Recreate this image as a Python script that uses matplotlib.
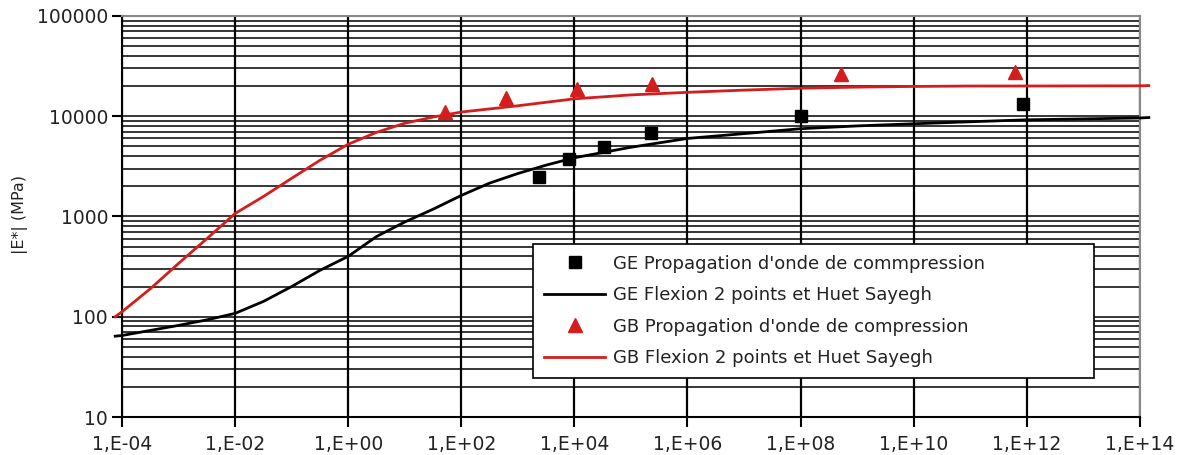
import math
import matplotlib
matplotlib.use('Agg')
import matplotlib.pyplot as plt
from matplotlib.ticker import FixedLocator, LogLocator, FuncFormatter, NullFormatter, NullLocator

# master curves (frequency Hz, |E*| MPa)
ge_freq = [10**-4.12, 1e-4, 10**-3.5, 1e-3, 10**-2.5, 1e-2, 10**-1.5, 1e-1, 10**-0.5, 1e0, 10**0.5, 1e1, 10**1.5,
           1e2, 10**2.5, 1e3, 10**3.5, 1e4, 1e5, 1e6, 1e7, 1e8, 1e9, 1e10, 1e11, 1e12, 1e13, 1e14, 10**14.16]
ge_mod = [64, 65, 73, 82, 93, 108, 142, 200, 290, 400, 630, 880, 1180,
          1620, 2150, 2680, 3250, 3850, 4900, 6000, 6700, 7500, 8000, 8400, 8800, 9200, 9400, 9600, 9700]

gb_freq = [10**-4.12, 1e-4, 10**-3.5, 1e-3, 10**-2.5, 1e-2, 10**-1.5, 1e-1, 10**-0.5, 1e0, 10**0.5, 1e1, 10**1.5,
           1e2, 1e3, 1e4, 1e5, 1e6, 1e7, 1e8, 1e9, 1e10, 1e11, 1e12, 1e14, 10**14.16]
gb_mod = [100, 112, 190, 340, 600, 1070, 1580, 2400, 3630, 5250, 6900, 8500, 9800,
          11000, 12700, 14900, 16300, 17300, 18200, 19000, 19500, 19800, 20000, 20000, 20100, 20200]

# compression wave propagation measurements
ge_pts_freq = [10**3.38, 10**3.9, 10**4.52, 10**5.36, 1e8, 10**11.94]
ge_pts_mod = [2500, 3700, 4900, 6800, 10000, 13200]

gb_pts_freq = [10**1.72, 10**2.8, 10**4.04, 10**5.38, 10**8.72, 10**11.8]
gb_pts_mod = [11000, 15100, 18600, 20900, 26300, 27500]

x_ticks = [1e-4, 1e-2, 1e0, 1e2, 1e4, 1e6, 1e8, 1e10, 1e12, 1e14]
y_ticks = [10, 100, 1000, 10000, 100000]

red = '#d41e1e'

fig = plt.figure(figsize=(11.96, 4.55), dpi=100)
ax = fig.add_axes([0.102, 0.0835, 0.851, 0.8815])
ax.set_xscale('log')
ax.set_yscale('log')
ax.set_xlim(1e-4, 1e14)
ax.set_ylim(10, 100000)

ax.xaxis.set_major_locator(FixedLocator(x_ticks))
ax.xaxis.set_minor_locator(NullLocator())
ax.yaxis.set_major_locator(FixedLocator(y_ticks))
ax.yaxis.set_minor_locator(LogLocator(base=10, subs=range(2, 10)))
ax.yaxis.set_minor_formatter(NullFormatter())

def xfmt(v, pos):
    e = int(round(math.log10(v)))
    return '1,E%s%02d' % ('+' if e >= 0 else '-', abs(e))

ax.xaxis.set_major_formatter(FuncFormatter(xfmt))
ax.yaxis.set_major_formatter(FuncFormatter(lambda v, p: '%d' % v))

ax.grid(True, axis='x', which='major', color='black', lw=1.6)
ax.grid(True, axis='y', which='both', color='black', lw=1.1)
ax.set_axisbelow(True)

ax.tick_params(axis='both', which='major', direction='out', length=7, width=1.5,
               labelsize=13.5, colors='black', labelcolor='#222222')
ax.tick_params(axis='y', which='minor', length=0)
ax.tick_params(axis='x', pad=6)
ax.tick_params(axis='y', pad=3)
for lab in ax.get_xticklabels() + ax.get_yticklabels():
    lab.set_fontfamily('DejaVu Sans')

for s in ['top', 'right']:
    ax.spines[s].set_color('#888888')
    ax.spines[s].set_linewidth(1.5)
ax.spines['left'].set_linewidth(1.5)
ax.spines['bottom'].set_linewidth(1.5)

ax.plot(ge_pts_freq, ge_pts_mod, ls='none', marker='s', ms=9, color='black',
        label="GE Propagation d'onde de commpression", zorder=4)
ax.plot(ge_freq, ge_mod, color='black', lw=2, clip_on=False,
        label='GE Flexion 2 points et Huet Sayegh', zorder=3)
ax.plot(gb_pts_freq, gb_pts_mod, ls='none', marker='^', ms=10, color=red,
        label="GB Propagation d'onde de compression", zorder=4)
ax.plot(gb_freq, gb_mod, color=red, lw=2, clip_on=False,
        label='GB Flexion 2 points et Huet Sayegh', zorder=3)

ax.set_ylabel('|E*| (MPa)', fontsize=11.5, family='DejaVu Sans', color='#222222')
ax.yaxis.set_label_coords(-0.092, 0.504)

leg = ax.legend(loc='lower left', bbox_to_anchor=(0.404, 0.097, 0.551, 0.337), mode='expand',
                borderaxespad=0, fancybox=False, edgecolor='black', framealpha=1,
                handlelength=3.4, handletextpad=0.4, labelspacing=0.75, borderpad=0.6,
                prop={'family': 'DejaVu Sans', 'size': 13})
leg.get_frame().set_linewidth(1.2)
for t in leg.get_texts():
    t.set_color('#222222')
leg.set_zorder(5)

fig.savefig('out.png', dpi=100)
